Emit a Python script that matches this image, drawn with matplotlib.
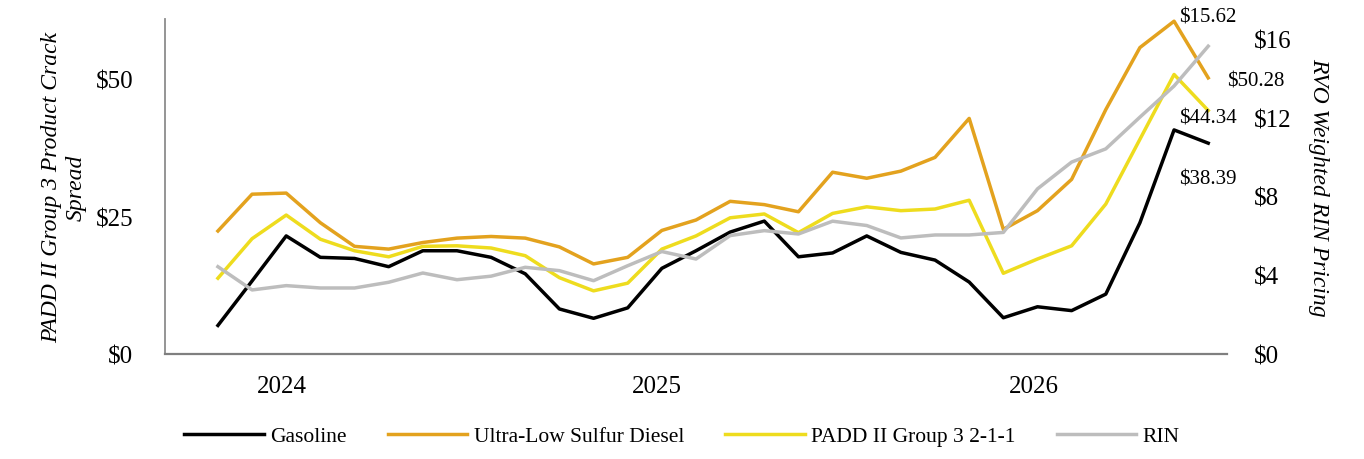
import numpy as np
import matplotlib
matplotlib.use('Agg')
import matplotlib.pyplot as plt
from matplotlib.ticker import FuncFormatter

plt.rcParams['font.family'] = ['Liberation Serif', 'DejaVu Serif']
plt.rcParams['text.parse_math'] = False

# monthly points, left axis in $/bbl, right axis in $/RIN
gasoline = [5.2, 13.3, 21.5, 17.6, 17.4, 15.9, 18.8, 18.8, 17.6, 14.6,
            8.2, 6.5, 8.4, 15.6, 18.8, 22.2, 24.2, 17.7, 18.4, 21.5,
            18.5, 17.1, 13.1, 6.6, 8.6, 7.9, 10.9, 23.9, 40.8, 38.39]
ulsd = [22.4, 29.1, 29.3, 23.9, 19.6, 19.1, 20.3, 21.1, 21.4, 21.1,
        19.5, 16.4, 17.6, 22.5, 24.4, 27.8, 27.2, 25.9, 33.1, 32.0,
        33.3, 35.8, 42.9, 22.7, 26.1, 31.8, 44.5, 55.8, 60.6, 50.28]
padd = [13.8, 21.0, 25.3, 20.9, 18.8, 17.7, 19.6, 19.7, 19.3, 17.9,
        13.9, 11.5, 12.9, 19.1, 21.5, 24.8, 25.5, 22.1, 25.6, 26.8,
        26.1, 26.4, 28.0, 14.7, 17.3, 19.7, 27.3, 39.1, 50.9, 44.34]
rin = [4.43, 3.25, 3.47, 3.35, 3.35, 3.64, 4.11, 3.77, 3.95, 4.40,
       4.23, 3.72, 4.48, 5.20, 4.82, 6.01, 6.26, 6.09, 6.74, 6.52,
       5.89, 6.04, 6.04, 6.17, 8.38, 9.74, 10.41, 12.02, 13.6, 15.62]
years = ['2024', '2025', '2026']
year_pos = [1.87, 12.86, 23.9]

c_gas = '#000000'
c_ulsd = '#E3A21E'
c_padd = '#EEDC1E'
c_rin = '#BDBDBD'
lw = 2.5

x = np.arange(len(gasoline))

fig = plt.figure(figsize=(13.64, 4.6), dpi=100)
ax = fig.add_axes([165 / 1364, 105 / 460, (1227 - 165) / 1364, 335 / 460])
ax2 = ax.twinx()

l1, = ax.plot(x, gasoline, color=c_gas, lw=lw, label='Gasoline')
l2, = ax.plot(x, ulsd, color=c_ulsd, lw=lw, label='Ultra-Low Sulfur Diesel')
l3, = ax.plot(x, padd, color=c_padd, lw=lw, label='PADD II Group 3 2-1-1')
l4, = ax2.plot(x, rin, color=c_rin, lw=lw, label='RIN')

ax.set_xlim(-1.55, 29.55)
ax.set_ylim(0, 61)
ax2.set_ylim(0, 17)
ax.set_yticks([0, 25, 50])
ax2.set_yticks([0, 4, 8, 12, 16])
ax.yaxis.set_major_formatter(FuncFormatter(lambda v, p: '$%d' % v))
ax2.yaxis.set_major_formatter(FuncFormatter(lambda v, p: '$%d' % v))
ax.set_xticks(year_pos)
ax.set_xticklabels(years)

ax.tick_params(axis='y', length=0, pad=23, labelsize=18)
ax2.tick_params(axis='y', length=0, pad=19.5, labelsize=18)
ax.tick_params(axis='x', length=0, pad=14.8, labelsize=18)

for a in (ax, ax2):
    for s in a.spines.values():
        s.set_visible(False)
ax.spines['left'].set_visible(True)
ax.spines['bottom'].set_visible(True)
ax.spines['left'].set_color('#8c8c8c')
ax.spines['bottom'].set_color('#7f7f7f')
ax.spines['left'].set_linewidth(1.3)
ax.spines['bottom'].set_linewidth(1.6)

ax.set_ylabel('PADD II Group 3 Product Crack\nSpread', fontsize=17,
              style='italic', linespacing=1.25, labelpad=6)
ax2.set_ylabel('RVO Weighted RIN Pricing', fontsize=17, style='italic',
               rotation=270, va='bottom', labelpad=12)

lab = dict(fontsize=15, textcoords='offset pixels', va='center')
ax2.annotate('$%.2f' % rin[-1], (x[-1], rin[-1]), xytext=(0, 29), ha='center', **lab)
ax.annotate('$%.2f' % ulsd[-1], (x[-1], ulsd[-1]), xytext=(19, -3), ha='left', **lab)
ax.annotate('$%.2f' % padd[-1], (x[-1], padd[-1]), xytext=(0, -8), ha='center', **lab)
ax.annotate('$%.2f' % gasoline[-1], (x[-1], gasoline[-1]), xytext=(0, -36), ha='center', **lab)

fig.legend(handles=[l1, l2, l3, l4], loc='center', bbox_to_anchor=(0.5, 0.05),
           ncol=4, frameon=False, fontsize=15.5, handlelength=3.7,
           handletextpad=0.3, columnspacing=1.9)

fig.savefig('out.png', dpi=100)
